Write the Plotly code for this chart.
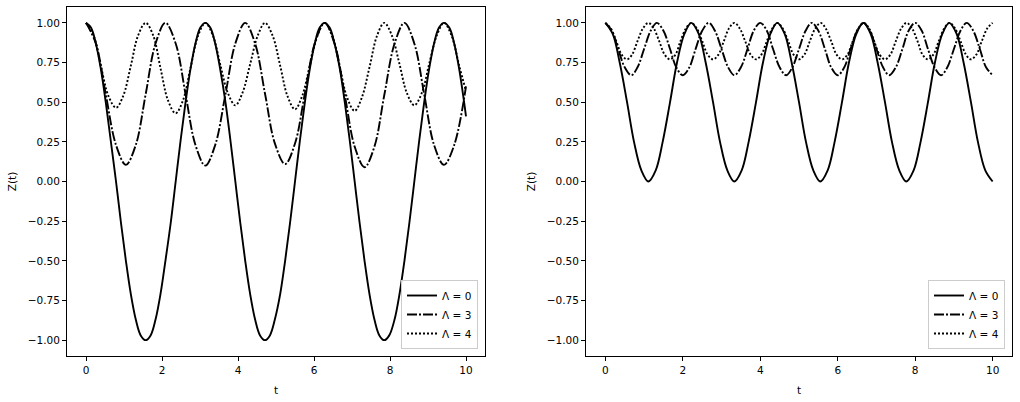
import plotly.graph_objects as go

# ---------------- data ----------------
# Left panel
tL0 = [0, 0.13, 0.26, 0.39, 0.52, 0.65, 0.79, 0.92, 1.05, 1.18, 1.31, 1.44, 1.57,
       1.70, 1.83, 1.96, 2.09, 2.23, 2.36, 2.49, 2.62, 2.75, 2.88, 3.01, 3.14, 3.27,
       3.40, 3.53, 3.67, 3.80, 3.93, 4.06, 4.19, 4.32, 4.45, 4.58, 4.71, 4.84, 4.97,
       5.11, 5.24, 5.37, 5.50, 5.63, 5.76, 5.89, 6.02, 6.15, 6.28, 6.41, 6.54, 6.68,
       6.81, 6.94, 7.07, 7.20, 7.33, 7.46, 7.59, 7.72, 7.85, 7.98, 8.12, 8.25, 8.38,
       8.51, 8.64, 8.77, 8.90, 9.03, 9.16, 9.29, 9.42, 9.56, 9.69, 9.82, 9.95, 10.0]
zL0 = [1, 0.97, 0.87, 0.71, 0.5, 0.26, 0, -0.26, -0.5, -0.71, -0.87, -0.97,
       -1, -0.97, -0.87, -0.71, -0.5, -0.26, 0, 0.26, 0.5, 0.71, 0.87, 0.97,
       1, 0.97, 0.87, 0.71, 0.5, 0.26, 0, -0.26, -0.5, -0.71, -0.87, -0.97,
       -1, -0.97, -0.87, -0.71, -0.5, -0.26, 0, 0.26, 0.5, 0.71, 0.87, 0.97,
       1, 0.97, 0.87, 0.71, 0.5, 0.26, 0, -0.26, -0.5, -0.71, -0.87, -0.97,
       -1, -0.97, -0.87, -0.71, -0.5, -0.26, 0, 0.26, 0.5, 0.71, 0.87, 0.97,
       1, 0.97, 0.87, 0.71, 0.5, 0.41]

tL3 = [0, 0.26, 0.52, 0.79, 1.05, 1.31, 1.57, 1.83, 2.09, 2.36, 2.62, 2.88, 3.14,
       3.40, 3.67, 3.93, 4.19, 4.45, 4.71, 4.97, 5.24, 5.50, 5.76, 6.02, 6.28, 6.54,
       6.81, 7.07, 7.33, 7.59, 7.85, 8.12, 8.38, 8.64, 8.90, 9.16, 9.42, 9.69, 10.0]
zL3 = [1, 0.87, 0.55, 0.23, 0.105, 0.23, 0.55, 0.87,
       1, 0.87, 0.55, 0.23, 0.10, 0.23, 0.55, 0.87,
       1, 0.87, 0.555, 0.24, 0.11, 0.24, 0.555, 0.87,
       1, 0.87, 0.545, 0.22, 0.09, 0.22, 0.545, 0.87,
       1, 0.87, 0.55, 0.23, 0.105, 0.23, 0.60]

tL4 = [0, 0.20, 0.39, 0.59, 0.79, 0.98, 1.18, 1.37, 1.57, 1.77, 1.96, 2.16, 2.36,
       2.55, 2.75, 2.95, 3.14, 3.34, 3.53, 3.73, 3.93, 4.12, 4.32, 4.52, 4.71, 4.91,
       5.11, 5.30, 5.50, 5.69, 5.89, 6.09, 6.28, 6.48, 6.68, 6.87, 7.07, 7.26, 7.46,
       7.66, 7.85, 8.05, 8.25, 8.44, 8.64, 8.84, 9.03, 9.23, 9.42, 9.62, 9.82, 10.0]
zL4 = [1, 0.92, 0.73, 0.54, 0.465, 0.54, 0.73, 0.92,
       1, 0.92, 0.715, 0.51, 0.43, 0.51, 0.715, 0.92,
       1, 0.92, 0.74, 0.56, 0.48, 0.56, 0.74, 0.92,
       1, 0.92, 0.73, 0.54, 0.455, 0.54, 0.73, 0.92,
       1, 0.92, 0.72, 0.53, 0.445, 0.53, 0.72, 0.92,
       1, 0.92, 0.74, 0.56, 0.48, 0.56, 0.74, 0.92,
       1, 0.92, 0.73, 0.57]

# Right panel
tR0 = [0, 0.19, 0.37, 0.56, 0.74, 0.93, 1.11, 1.30, 1.48, 1.67, 1.85, 2.04, 2.22,
       2.41, 2.59, 2.78, 2.96, 3.15, 3.33, 3.52, 3.70, 3.89, 4.07, 4.26, 4.44, 4.63,
       4.81, 5.00, 5.18, 5.37, 5.55, 5.74, 5.92, 6.11, 6.29, 6.48, 6.66, 6.85, 7.03,
       7.22, 7.40, 7.59, 7.77, 7.96, 8.14, 8.33, 8.51, 8.70, 8.88, 9.07, 9.25, 9.44,
       9.62, 9.81, 10.0]
zR0 = [1, 0.93, 0.75, 0.5, 0.25, 0.07, 0, 0.07, 0.25, 0.5, 0.75, 0.93,
       1, 0.93, 0.75, 0.5, 0.25, 0.07, 0, 0.07, 0.25, 0.5, 0.75, 0.93,
       1, 0.93, 0.75, 0.5, 0.25, 0.07, 0, 0.07, 0.25, 0.5, 0.75, 0.93,
       1, 0.93, 0.75, 0.5, 0.25, 0.07, 0, 0.07, 0.25, 0.5, 0.75, 0.93,
       1, 0.93, 0.75, 0.5, 0.25, 0.07, 0]

tR3 = [0, 0.17, 0.33, 0.50, 0.67, 0.83, 1.00, 1.17, 1.33, 1.50, 1.67, 1.83, 2.00,
       2.17, 2.33, 2.50, 2.67, 2.83, 3.00, 3.17, 3.33, 3.50, 3.67, 3.83, 4.00, 4.17,
       4.33, 4.50, 4.67, 4.83, 5.00, 5.17, 5.33, 5.50, 5.67, 5.83, 6.00, 6.17, 6.33,
       6.50, 6.67, 6.83, 7.00, 7.17, 7.33, 7.50, 7.67, 7.83, 8.00, 8.17, 8.33, 8.50,
       8.67, 8.83, 9.00, 9.17, 9.33, 9.50, 9.67, 9.83, 10.0]
zR3 = [1, 0.95, 0.835, 0.72, 0.67, 0.72, 0.835, 0.95,
       1, 0.95, 0.835, 0.72, 0.67, 0.72, 0.835, 0.95,
       1, 0.95, 0.835, 0.72, 0.67, 0.72, 0.835, 0.95,
       1, 0.95, 0.835, 0.72, 0.67, 0.72, 0.835, 0.95,
       1, 0.95, 0.835, 0.72, 0.67, 0.72, 0.835, 0.95,
       1, 0.95, 0.835, 0.72, 0.67, 0.72, 0.835, 0.95,
       1, 0.95, 0.835, 0.72, 0.67, 0.72, 0.835, 0.95,
       1, 0.95, 0.835, 0.72, 0.67]

tR4 = [0, 0.14, 0.28, 0.42, 0.56, 0.69, 0.83, 0.97, 1.11, 1.25, 1.39, 1.53, 1.67,
       1.81, 1.94, 2.08, 2.22, 2.36, 2.50, 2.64, 2.78, 2.92, 3.06, 3.19, 3.33, 3.47,
       3.61, 3.75, 3.89, 4.03, 4.17, 4.31, 4.44, 4.58, 4.72, 4.86, 5.00, 5.14, 5.28,
       5.42, 5.56, 5.69, 5.83, 5.97, 6.11, 6.25, 6.39, 6.53, 6.67, 6.81, 6.94, 7.08,
       7.22, 7.36, 7.50, 7.64, 7.78, 7.92, 8.06, 8.19, 8.33, 8.47, 8.61, 8.75, 8.89,
       9.03, 9.17, 9.31, 9.44, 9.58, 9.72, 9.86, 10.0]
zR4 = [1, 0.965, 0.885, 0.80, 0.77, 0.80, 0.885, 0.965,
       1, 0.965, 0.885, 0.80, 0.77, 0.80, 0.885, 0.965,
       1, 0.965, 0.885, 0.80, 0.77, 0.80, 0.885, 0.965,
       1, 0.965, 0.885, 0.80, 0.77, 0.80, 0.885, 0.965,
       1, 0.965, 0.885, 0.80, 0.77, 0.80, 0.885, 0.965,
       1, 0.965, 0.885, 0.80, 0.77, 0.80, 0.885, 0.965,
       1, 0.965, 0.885, 0.80, 0.77, 0.80, 0.885, 0.965,
       1, 0.965, 0.885, 0.80, 0.77, 0.80, 0.885, 0.965,
       1, 0.965, 0.885, 0.80, 0.77, 0.80, 0.885, 0.965,
       1]

labels = ["Λ = 0", "Λ = 3", "Λ = 4"]
xticks = [0, 2, 4, 6, 8, 10]
yticks = [1.0, 0.75, 0.5, 0.25, 0.0, -0.25, -0.5, -0.75, -1.0]

# ---------------- figure ----------------
FONT = "DejaVu Sans"
dashes = ["solid", "10px,2px,2px,2px", "2px,2px"]

fig = go.Figure()
panels = [
    ([tL0, tL3, tL4], [zL0, zL3, zL4], "x", "y", "legend"),
    ([tR0, tR3, tR4], [zR0, zR3, zR4], "x2", "y2", "legend2"),
]
for ts, zs, xa, ya, lg in panels:
    for t, z, lab, d in zip(ts, zs, labels, dashes):
        fig.add_trace(go.Scatter(
            x=t, y=z, mode="lines", name=lab, xaxis=xa, yaxis=ya, legend=lg,
            line=dict(color="black", width=1.9, dash=d, shape="spline", smoothing=1.0),
        ))

W, H = 1020, 402
ml, mr, mt, mb = 67, 8, 7, 46
pw = W - ml - mr

def xdom(a, b):
    return [(a - ml) / pw, (b - ml) / pw]

common_x = dict(range=[-0.5, 10.5], tickvals=xticks, ticks="outside", ticklen=4,
                tickwidth=1, tickcolor="black", showline=True, linecolor="black",
                linewidth=1, mirror=True, showgrid=False, zeroline=False,
                tickfont=dict(family=FONT, size=10.5, color="black"),
                title=dict(text="t", font=dict(family=FONT, size=10.5, color="black"), standoff=12))
common_y = dict(range=[-1.1, 1.1], tickvals=yticks, tickformat=".2f", ticks="outside",
                ticklen=4, tickwidth=1, tickcolor="black", showline=True,
                linecolor="black", linewidth=1, mirror=True, showgrid=False,
                zeroline=False, tickfont=dict(family=FONT, size=10.5, color="black"),
                title=dict(text="Z(t)", font=dict(family=FONT, size=10.5, color="black"), standoff=9))

legend_common = dict(bgcolor="rgba(255,255,255,0.8)", bordercolor="#cccccc", borderwidth=1,
                     font=dict(family=FONT, size=10.5, color="black"),
                     xanchor="right", yanchor="bottom", tracegroupgap=0)

fig.update_layout(
    width=W, height=H,
    margin=dict(l=ml, r=mr, t=mt, b=mb, autoexpand=False),
    paper_bgcolor="white", plot_bgcolor="white",
    showlegend=True,
    xaxis=dict(domain=xdom(67, 485), anchor="y", **common_x),
    yaxis=dict(domain=[0, 1], anchor="x", **common_y),
    xaxis2=dict(domain=xdom(586, 1012), anchor="y2", **common_x),
    yaxis2=dict(domain=[0, 1], anchor="x2", **common_y),
    legend=dict(x=(478 - ml) / pw, y=(356 - 349) / (H - mt - mb), **legend_common),
    legend2=dict(x=(1005 - ml) / pw, y=(356 - 349) / (H - mt - mb), **legend_common),
)

fig.write_html("out.html")
